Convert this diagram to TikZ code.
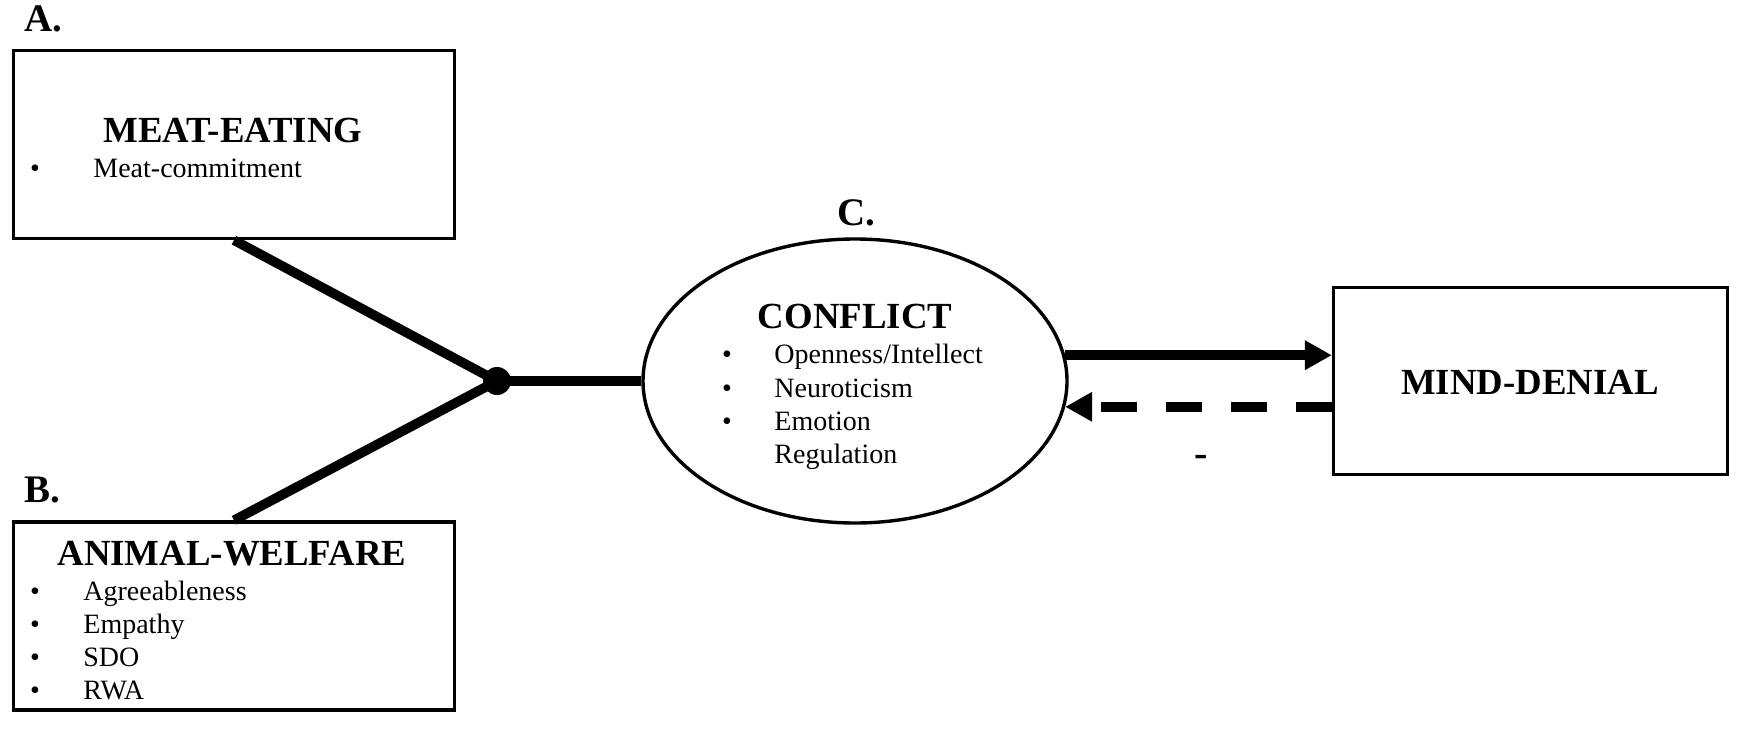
\documentclass[tikz,border=0pt]{standalone}
\usepackage{fontspec}
\setmainfont{Liberation Serif}
\usetikzlibrary{arrows.meta,shapes.geometric,calc}
\begin{document}
\begin{tikzpicture}[x=0.5pt,y=-0.5pt,
  box/.style={draw,line width=1.7pt,inner sep=0pt},
  ttl/.style={font=\fontsize{18.4}{20}\selectfont\bfseries,inner sep=0pt,anchor=base},
  lbl/.style={font=\fontsize{19.5}{21}\selectfont\bfseries,inner sep=0pt,anchor=base west},
  itm/.style={font=\fontsize{14}{16}\selectfont,inner sep=0pt,anchor=base west},
  bul/.style={font=\fontsize{14}{16}\selectfont,inner sep=0pt,anchor=base},
  conn/.style={line width=4.8pt},
  arr/.style={line width=5pt,-{Triangle[length=13.5pt,width=14pt]}},
]
\useasboundingbox (0,0) rectangle (1743,728);

% boxes
\node[box,minimum width=220.5pt,minimum height=94pt] (meat) at (234,144.5) {};
\node[box,minimum width=220.5pt,minimum height=94pt] (animal) at (234,616) {};
\node[box,minimum width=197pt,minimum height=93.5pt] (md) at (1530.5,381) {};
\node[draw,ellipse,line width=1.7pt,minimum width=212pt,minimum height=142pt,inner sep=0pt] (conf) at (855,381) {};

% labels
\node[lbl] (labA) at (24,32) {A.};
\node[lbl] (labB) at (24,502) {B.};
\node[ttl,font=\fontsize{19.5}{21}\selectfont\bfseries] (labC) at (856,225) {C.};

% meat-eating
\node[ttl] (meatT) at (233,142) {MEAT-EATING};
\node[bul] (mb1) at (35,177) {\textbullet};
\node[itm] (mi1) at (93,177) {Meat-commitment};

% animal welfare
\node[ttl] (animT) at (232,565) {ANIMAL-WELFARE};
\node[bul] (ab1) at (35,600) {\textbullet};
\node[itm] (ai1) at (83,600) {Agreeableness};
\node[bul] (ab2) at (35,633) {\textbullet};
\node[itm] (ai2) at (83,633) {Empathy};
\node[bul] (ab3) at (35,666) {\textbullet};
\node[itm] (ai3) at (83,666) {SDO};
\node[bul] (ab4) at (35,699) {\textbullet};
\node[itm] (ai4) at (83,699) {RWA};

% conflict
\node[ttl] (confT) at (855,328) {CONFLICT};
\node[bul] (cb1) at (727,363) {\textbullet};
\node[itm] (ci1) at (774,363) {Openness/Intellect};
\node[bul] (cb2) at (727,397) {\textbullet};
\node[itm] (ci2) at (774,397) {Neuroticism};
\node[bul] (cb3) at (727,430) {\textbullet};
\node[itm] (ci3) at (774,430) {Emotion};
\node[itm] (ci4) at (774,463) {Regulation};

% mind-denial
\node[ttl] (mdT) at (1530,394) {MIND-DENIAL};
\node[font=\fontsize{20}{22}\selectfont\bfseries,inner sep=0pt,anchor=base] (neg) at (1201,466) {-};

% connectors
\node[circle,fill,minimum size=14pt,inner sep=0pt] (dot) at (497,381) {};
\draw[conn] (meat.south) -- (dot.center);
\draw[conn] (animal.north) -- (dot.center);
\draw[conn] (dot.center) -- (conf.west);
\draw[arr] (conf.7.4) -- (conf.7.4 -| md.west);
\draw[arr,dash pattern=on 18pt off 14.5pt] (md.west |- conf.-7.4) -- (conf.-7.4);
\end{tikzpicture}
\end{document}
